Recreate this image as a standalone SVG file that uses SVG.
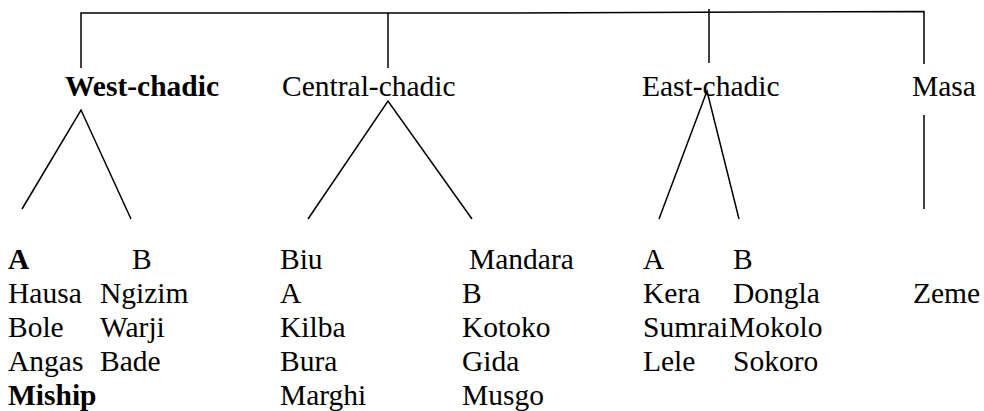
<svg xmlns="http://www.w3.org/2000/svg" width="984" height="411" viewBox="0 0 984 411">
  <style>
    text { font-family: "Liberation Serif", "Times New Roman", serif; font-size: 29.5px; fill: #000; }
    .b { font-weight: bold; }
    .ln { stroke: #000; stroke-width: 1.5; fill: none; }
  </style>
  <rect width="984" height="411" fill="#fff"/>

  <!-- connectors -->
  <g id="connectors">
    <polyline class="ln" points="81,68 81,13 500,13 924,11.5 924,64"/>
    <line class="ln" x1="388" y1="13" x2="388" y2="68"/>
    <line class="ln" x1="709" y1="9" x2="709" y2="63"/>
    <polyline class="ln" points="22,209 81,110 131,219"/>
    <polyline class="ln" points="308,219 388,101 472,219"/>
    <polyline class="ln" points="659,219 707,91 739,219"/>
    <line class="ln" x1="924" y1="115" x2="924" y2="209"/>
  </g>

  <!-- West-chadic -->
  <g id="west-chadic">
    <text class="b" x="65" y="96">West-chadic</text>
    <text class="b" x="8" y="269">A</text>
    <text x="132" y="269">B</text>
    <text x="8" y="303">Hausa</text>
    <text x="100" y="303">Ngizim</text>
    <text x="8" y="337">Bole</text>
    <text x="100" y="337">Warji</text>
    <text x="8" y="371">Angas</text>
    <text x="100" y="371">Bade</text>
    <text class="b" x="8" y="405">Miship</text>
  </g>

  <!-- Central-chadic -->
  <g id="central-chadic">
    <text x="282" y="96">Central-chadic</text>
    <text x="280" y="269">Biu</text>
    <text x="469" y="269">Mandara</text>
    <text x="280" y="303">A</text>
    <text x="462" y="303">B</text>
    <text x="280" y="337">Kilba</text>
    <text x="462" y="337">Kotoko</text>
    <text x="280" y="371">Bura</text>
    <text x="462" y="371">Gida</text>
    <text x="280" y="405">Marghi</text>
    <text x="462" y="405">Musgo</text>
  </g>

  <!-- East-chadic -->
  <g id="east-chadic">
    <text x="642" y="96">East-chadic</text>
    <text x="643" y="269">A</text>
    <text x="733" y="269">B</text>
    <text x="643" y="303">Kera</text>
    <text x="733" y="303">Dongla</text>
    <text x="643" y="337">Sumrai</text>
    <text x="729" y="337">Mokolo</text>
    <text x="643" y="371">Lele</text>
    <text x="733" y="371">Sokoro</text>
  </g>

  <!-- Masa -->
  <g id="masa">
    <text x="912" y="96">Masa</text>
    <text x="913" y="303">Zeme</text>
  </g>
</svg>
